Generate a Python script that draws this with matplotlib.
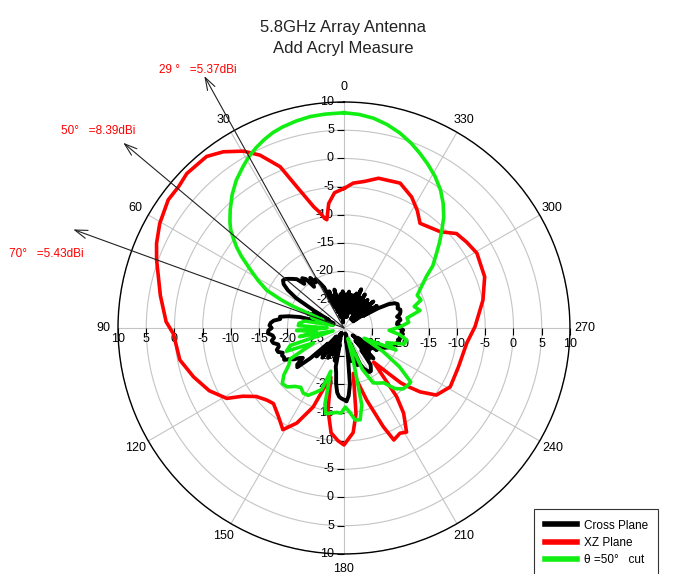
import numpy as np
import matplotlib.pyplot as plt
from matplotlib.lines import Line2D

plt.rcParams['font.family'] = ['Liberation Sans', 'DejaVu Sans']

# angle in degrees (0 = top, counter-clockwise), gain in dBi
cross_deg = list(range(0, 361, 2))
cross_db = [-27, -23.5, -28, -24, -29, -24.5, -27, -23, -28, -24,
            -27, -23, -26, -22, -21, -20, -20.5, -19.3, -21, -19,
            -18.5, -19.5, -18, -17.5, -17, -16.5, -16.3, -16.8, -18, -20,
            -24, -27, -24, -28, -23, -27, -24, -28, -22, -20,
            -18.5, -18.6, -17.5, -17, -16.8, -17.2, -16.6, -16.5, -17.3, -17.5,
            -17, -17.2, -18, -18, -17.5, -17.6, -18.3, -18, -18.2, -18,
            -19, -19.5, -20.5, -21, -19.5, -19.2, -22, -26, -23, -28,
            -24, -27, -23.5, -28, -25, -29, -24, -28, -25, -29,
            -25, -28, -24, -27, -23, -22, -20, -18.5, -17.8, -17.5,
            -17.3, -17, -18, -20, -25, -28, -24, -29, -25, -28,
            -23, -27, -23, -22, -21.5, -21, -21, -21.5, -22, -25,
            -23, -27, -22.5, -26, -24, -28, -24, -27, -23, -25,
            -22.5, -23, -22, -21.5, -21, -21, -20.5, -20.3, -20, -20.2,
            -19.8, -20, -19.5, -19.8, -19.5, -20.2, -20, -20.6, -20.5, -19.9,
            -20, -20.4, -19.8, -19.6, -19.5, -19.9, -19.7, -19.6, -20, -21,
            -23, -26, -23, -28, -24, -27, -23, -28, -24, -27,
            -23.5, -28, -24, -27, -23, -26, -24, -27, -22.5, -25,
            -23.5, -27, -24, -28, -24, -27, -23.5, -28, -24, -27,
            -27]

xz_deg = [0, 4, 7, 9, 10, 12, 14, 18.5, 21.6, 25.9, 29.6, 34.4, 38.7, 45.5, 49.5, 53.9, 60.4,
          65.7, 70, 80, 88, 92, 101, 108, 115, 121, 124, 128, 133, 137, 143.5, 149, 153.6,
          158.7, 162.6, 165, 169, 173, 177, 180, 185, 188, 191.6, 197.5, 201.7, 204, 208, 211,
          215, 217.5, 221, 224, 226, 227.6, 230, 234, 241, 251, 263, 270.6, 281.4, 290, 299.4,
          305, 310, 315, 324, 328, 332.7, 338.8, 347, 352, 356.3, 360]
xz_db = [-5.3, -6.0, -7.8, -10.6, -10.3, -9.0, -7.9, -3.6, 0.7, 4.0, 6.0, 7.8, 8.9, 9.0, 8.5,
         8.5, 7.5, 6.4, 5.3, 3.0, 1.5, 0.2, -0.4, -2.0, -3.7, -5.8, -8.4, -10.3, -11.3, -11.7,
         -10.5, -9.0, -11.2, -15.0, -19.7, -21, -15.2, -11.3, -10, -9.3, -11.4, -14.7, -21.8,
         -16.6, -11.2, -8.3, -8.9, -8.5, -11.6, -14.7, -22, -19.2, -16, -14.6, -12.4, -9.8,
         -8.5, -8.6, -8.1, -6.8, -4.9, -3.5, -3.0, -3.5, -4.0, -5.9, -7.1, -5.5, -3.9, -2.5,
         -2.8, -3.8, -4.3, -5.3]

cut_deg = [0, 5, 9, 13, 17, 20, 23, 26, 29, 32, 36, 40, 44, 47, 49, 51, 53, 55, 58, 61, 64,
           66, 67, 69, 72, 76, 80, 84, 87, 90, 93, 97, 101, 105, 108, 112, 116, 120, 124, 128,
           132, 136, 140, 144, 148, 152, 156, 160, 163, 166, 168, 172, 175, 178, 181, 184, 187,
           190, 193, 196, 200, 204, 208, 212, 216, 220, 224, 228, 231, 235, 239, 243, 247, 251,
           255, 259, 263, 267, 271, 275, 279, 283, 287, 290, 294, 298, 302, 305, 309, 312, 315,
           318, 321.5, 325, 329, 333, 336.5, 340, 344, 348, 352, 356, 360]
cut_db = [8.1, 8.0, 7.9, 7.6, 7.2, 6.8, 6.2, 5.5, 4.7, 3.7, 2.4, 0.8, -1.0, -2.4, -3.4, -4.8,
          -6.2, -7.8, -10.4, -12.6, -14.8, -18, -20.3, -26, -24, -28, -23, -22, -21.9, -27,
          -21.6, -25, -22, -28, -20, -19, -24, -19, -18.2, -16.5, -15.3, -15.5, -16.5, -17,
          -16.4, -16.5, -17.5, -18.4, -22, -16, -14.5, -14.8, -15, -14.9, -16, -15, -13.6,
          -13.5, -16, -24, -28, -22, -19, -18.5, -18, -16, -15, -14.8, -14.8, -18, -22, -26,
          -20, -22, -19, -18.7, -20, -22, -20.1, -18.5, -18.7, -16.2, -17, -15.5, -15.8, -14.5,
          -12.8, -10.8, -8.9, -7.2, -5.5, -3.6, -1.8, -0.2, 1.3, 2.6, 3.7, 4.8, 5.9, 6.8, 7.5,
          7.9, 8.1]

rings = [-25, -20, -15, -10, -5, 0, 5, 10]
peak_deg = [29, 50, 70]
peak_text = ['29 °   =5.37dBi', '50°   =8.39dBi', '70°   =5.43dBi']

fig = plt.figure(figsize=(6.75, 5.74), dpi=100)
ax = fig.add_axes([0.1748, 0.0349, 0.6696, 0.7874], projection='polar')
ax.set_theta_zero_location('N')
ax.set_theta_direction(1)
ax.set_rlim(-30, 10)
ax.set_rticks(rings)
ax.set_yticklabels([])
ax.set_thetagrids(range(0, 360, 30), labels=[str(a) for a in range(0, 360, 30)], fontsize=9)
ax.tick_params(axis='x', pad=0)
ax.grid(color='#c4c4c4', lw=0.8)
ax.spines['polar'].set_color('black')
ax.spines['polar'].set_linewidth(1.0)
ax.set_axisbelow(True)

# radial scale labels along the four main axes
for v in rings:
    for th in (0, np.pi):
        ax.annotate(str(v), (th, v), xytext=(-10, 0), textcoords='offset pixels',
                    ha='right', va='center', fontsize=9, zorder=1)
    ax.annotate(str(v), (np.pi / 2, v), xytext=(0, -11), textcoords='offset pixels',
                ha='center', va='center', fontsize=9, zorder=1)
    ax.annotate(str(v), (3 * np.pi / 2, v), xytext=(0, -16), textcoords='offset pixels',
                ha='center', va='center', fontsize=9, zorder=1)
for th, mk in ((0, 0), (np.pi, 0), (np.pi / 2, 3), (3 * np.pi / 2, 3)):
    ax.plot([th] * len(rings), rings, ls='', marker=mk, ms=5, mew=0.8, color='black',
            zorder=1, clip_on=False)

ax.plot(np.deg2rad(cross_deg), cross_db, color='black', lw=2.8, zorder=4)
ax.plot(np.deg2rad(xz_deg), xz_db, color='#ff0000', lw=2.6, zorder=5)
ax.plot(np.deg2rad(cut_deg), cut_db, color='#11ee11', lw=2.6, zorder=6)

# peak arrows
for d in peak_deg:
    ax.annotate('', xy=(np.deg2rad(d), 21), xytext=(np.deg2rad(d), -30),
                arrowprops=dict(arrowstyle='->,head_length=0.9,head_width=0.3',
                                color='#222222', lw=0.8, shrinkA=0, shrinkB=0),
                annotation_clip=False, zorder=7)
fig.text(0.2356, 0.878, peak_text[0], color='red', fontsize=8.5, va='center')
fig.text(0.0904, 0.7718, peak_text[1], color='red', fontsize=8.5, va='center')
fig.text(0.0133, 0.5575, peak_text[2], color='red', fontsize=8.5, va='center')

fig.text(0.508, 0.9443, '5.8GHz Array Antenna', ha='center', va='baseline', fontsize=12,
         color='#222222')
fig.text(0.508, 0.9077, 'Add Acryl Measure', ha='center', va='baseline', fontsize=12,
         color='#222222')

handles = [Line2D([], [], color='black', lw=4),
           Line2D([], [], color='#ff0000', lw=4),
           Line2D([], [], color='#11ee11', lw=4)]
leg = fig.legend(handles, ['Cross Plane', 'XZ Plane', 'θ =50°   cut'],
                 loc='upper left', bbox_to_anchor=(534 / 675, 1 - 509 / 574),
                 fontsize=8.5, frameon=True, fancybox=False, borderpad=0.9,
                 labelspacing=0.45, handlelength=2.7, handletextpad=0.6, borderaxespad=0)
leg.get_frame().set_edgecolor('black')
leg.get_frame().set_linewidth(0.8)

fig.savefig('out.png', dpi=100)
